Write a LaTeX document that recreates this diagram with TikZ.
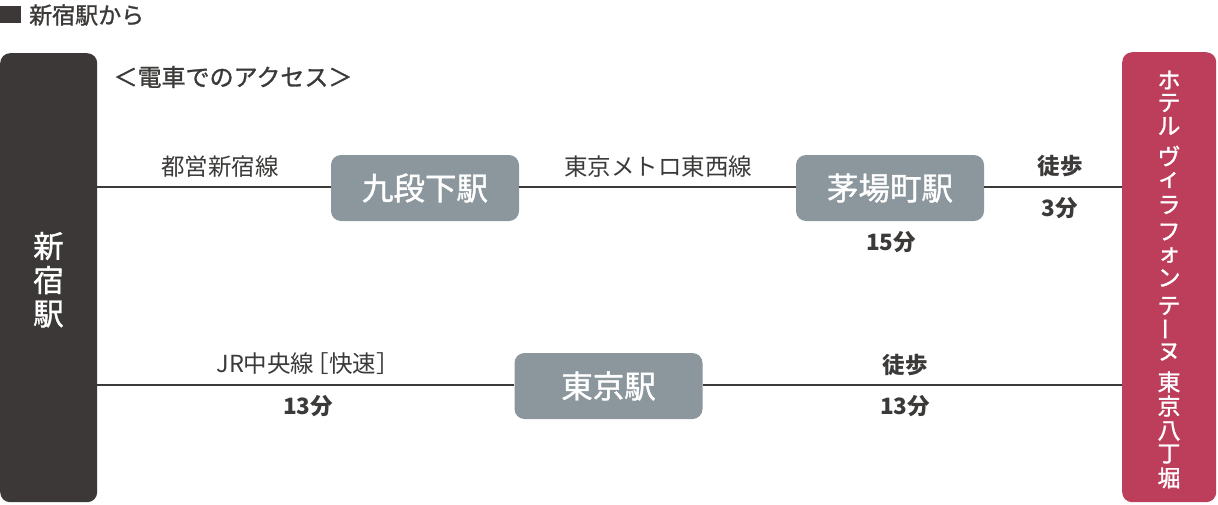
\documentclass[tikz,border=0pt]{standalone}
\usepackage{fontspec}
\setmainfont{Noto Sans CJK JP}
\newfontfamily\medfont{Noto Sans CJK JP}[FakeBold=1.2]
\definecolor{darkbox}{HTML}{3B3837}
\definecolor{txtdark}{HTML}{3C3A39}
\definecolor{stgray}{HTML}{8B979D}
\definecolor{hotelred}{HTML}{BD3E5A}
\tikzset{
  lbl/.style={inner sep=0pt, text=txtdark, font=\fontsize{23.5}{24}\selectfont},
  blbl/.style={inner sep=0pt, text=txtdark, font=\bfseries\fontsize{22.5}{23}\selectfont},
  station/.style={fill=stgray, rounded corners=10pt, minimum width=188pt, minimum height=66pt,
    inner sep=0pt, text=white, font=\medfont\fontsize{31.5}{32}\selectfont},
  vchar/.style={inner sep=0pt, text=white, font=\medfont\fontsize{23}{23}\selectfont},
  railline/.style={draw=txtdark, line width=2pt},
}
\begin{document}
\begin{tikzpicture}[x=1pt,y=-1pt]
\useasboundingbox (0,0) rectangle (1218,504);
% header
\node[fill=darkbox, minimum width=21pt, minimum height=17pt, inner sep=0pt, anchor=north west] (sq) at (0,6) {};
\node[lbl, font=\medfont\fontsize{23}{23}\selectfont, anchor=west] (title) at (29,15) {新宿駅から};
\node[lbl, font=\medfont\fontsize{24}{24}\selectfont] (access) at (233,77) {＜電車でのアクセス＞};
% origin and destination
\node[fill=darkbox, rounded corners=10pt, minimum width=97pt, minimum height=449pt, inner sep=0pt, anchor=north west] (shin) at (0,53) {};
\node[vchar, font=\medfont\fontsize{30.5}{31}\selectfont] (s1) at (48.5,246) {新};
\node[vchar, font=\medfont\fontsize{30.5}{31}\selectfont] (s2) at (48.5,280) {宿};
\node[vchar, font=\medfont\fontsize{30.5}{31}\selectfont] (s3) at (48.5,314) {駅};
\node[fill=hotelred, rounded corners=10pt, minimum width=94pt, minimum height=450pt, inner sep=0pt, anchor=north west] (hotel) at (1122,52) {};
\foreach \c/\r/\yy [count=\i] in {ホ/0/80,テ/0/103,ル/0/126,ヴ/0/156,ィ/0/180,ラ/0/205,フ/0/232,ォ/0/255,ン/0/278,テ/0/306,ー/90/329,ヌ/0/352,東/0/382,京/0/406,八/0/431,丁/0/454,堀/0/478}{
  \node[vchar, rotate=\r] (h\i) at (1169,\yy) {\c};
}
% stations
\node[station] (kudan) at (425,188) {九段下駅};
\node[station] (kaya) at (890,188) {茅場町駅};
\node[station] (tokyo) at (608.5,386) {東京駅};
% lines
\coordinate (a1) at (97,187);
\coordinate (a2) at (1122,187);
\coordinate (b1) at (97,385);
\coordinate (b2) at (1122,385);
\draw[railline] (a1) -- (kudan.west |- a1);
\draw[railline] (kudan.east |- a1) -- (kaya.west |- a1);
\draw[railline] (kaya.east |- a1) -- (a2);
\draw[railline] (b1) -- (tokyo.west |- b1);
\draw[railline] (tokyo.east |- b1) -- (b2);
% labels
\node[lbl] (l1) at (220,167) {都営新宿線};
\node[lbl] (l2) at (658,167) {東京メトロ東西線};
\node[blbl] (t1) at (891,242) {15分};
\node[blbl] (w1) at (1060,166) {徒歩};
\node[blbl] (t2) at (1060,208) {3分};
\node[lbl] (l3) at (308,364) {JR中央線\hspace{-9pt}［快速］\hspace{-9pt}};
\node[blbl] (t3) at (308,406) {13分};
\node[blbl] (w2) at (905,365) {徒歩};
\node[blbl] (t4) at (905,406) {13分};
\end{tikzpicture}
\end{document}
